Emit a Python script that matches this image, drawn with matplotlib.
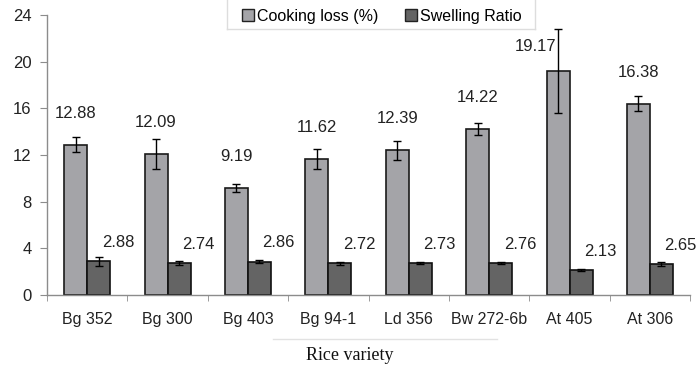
import matplotlib.pyplot as plt
import numpy as np
from matplotlib.lines import Line2D

varieties = ["Bg 352", "Bg 300", "Bg 403", "Bg 94-1", "Ld 356", "Bw 272-6b", "At 405", "At 306"]
cooking_loss = [12.88, 12.09, 9.19, 11.62, 12.39, 14.22, 19.17, 16.38]
cooking_err = [0.65, 1.25, 0.35, 0.85, 0.85, 0.55, 3.6, 0.65]
swelling = [2.88, 2.74, 2.86, 2.72, 2.73, 2.76, 2.13, 2.65]
swelling_err = [0.4, 0.2, 0.1, 0.15, 0.1, 0.1, 0.08, 0.2]
y_ticks = [0, 4, 8, 12, 16, 20, 24]

LIGHT = "#A4A4A8"
DARK = "#646464"
AXIS = "#8C8C8C"
FONT = "Liberation Sans"

fig = plt.figure(figsize=(7.0, 3.73), dpi=100)
ax = fig.add_axes([0.067, 0.209, 0.919, 0.751])

x = np.arange(len(varieties))
w = 0.286
err_kw = dict(ecolor="black", elinewidth=1.0, capsize=3, capthick=1.0)
ax.bar(x - w / 2, cooking_loss, w, yerr=cooking_err, color=LIGHT,
       edgecolor="#1A1A1A", linewidth=1.2, error_kw=err_kw, zorder=2)
ax.bar(x + w / 2, swelling, w, yerr=swelling_err, color=DARK,
       edgecolor="#111111", linewidth=1.2, error_kw=err_kw, zorder=2)

# value labels
for i, v in enumerate(cooking_loss):
    dx = -0.28 if i == 6 else 0.0
    dy = 2.1 if i == 6 else 2.7
    ax.text(x[i] - w / 2 + dx, v + dy, f"{v:.2f}", ha="center", va="center",
            fontsize=12, family=FONT, color="#222222")
for i, v in enumerate(swelling):
    ax.text(x[i] + w / 2 + 0.24, v + 1.6, f"{v:.2f}", ha="center", va="center",
            fontsize=12, family=FONT, color="#222222")

ax.set_xlim(-0.5, len(varieties) - 0.5)
ax.set_ylim(0, 24)
ax.set_yticks(y_ticks)
ax.set_yticklabels([str(t) for t in y_ticks], family=FONT, fontsize=12, color="#222222")
ax.set_xticks(x)
ax.set_xticklabels(varieties, family=FONT, fontsize=11.5, color="#222222")
ax.set_xticks(np.arange(len(varieties) + 1) - 0.5, minor=True)
ax.tick_params(axis="x", which="major", length=0, pad=12)
ax.tick_params(axis="x", which="minor", length=4, color=AXIS, direction="out")
ax.tick_params(axis="y", length=5, color=AXIS, direction="out", pad=6)

for s in ("top", "right"):
    ax.spines[s].set_visible(False)
for s in ("left", "bottom"):
    ax.spines[s].set_color(AXIS)
    ax.spines[s].set_linewidth(1.0)

# legend (frame is open at the top, so draw its sides by hand)
handles = [
    Line2D([], [], marker="s", linestyle="none", markersize=8,
           markerfacecolor=LIGHT, markeredgecolor="#222222", label="Cooking loss (%)"),
    Line2D([], [], marker="s", linestyle="none", markersize=8,
           markerfacecolor=DARK, markeredgecolor="#222222", label="Swelling Ratio"),
]
fig.legend(handles=handles, loc="center", bbox_to_anchor=(0.545, 1 - 16 / 373),
           ncol=2, frameon=False, handletextpad=0.1,
           columnspacing=1.6, borderpad=0.0, handlelength=0.9,
           prop={"family": FONT, "size": 11.5})
lx0, lx1, ly = 227 / 700, 535 / 700, 1 - 29 / 373
for xs, ys in (([lx0, lx0], [ly, 1]), ([lx1, lx1], [ly, 1]), ([lx0, lx1], [ly, ly])):
    fig.add_artist(Line2D(xs, ys, color="#DDDDDD", linewidth=1.0))

# x axis title with its faint frame line above
fig.add_artist(Line2D([273 / 700, 497 / 700], [1 - 339 / 373] * 2,
                      color="#E2E2E2", linewidth=1.0))
fig.text(0.5, 1 - 355 / 373, "Rice variety", ha="center", va="center",
         family="Liberation Serif", fontsize=13, color="#111111")

fig.savefig("out.png", dpi=100, facecolor="white")
